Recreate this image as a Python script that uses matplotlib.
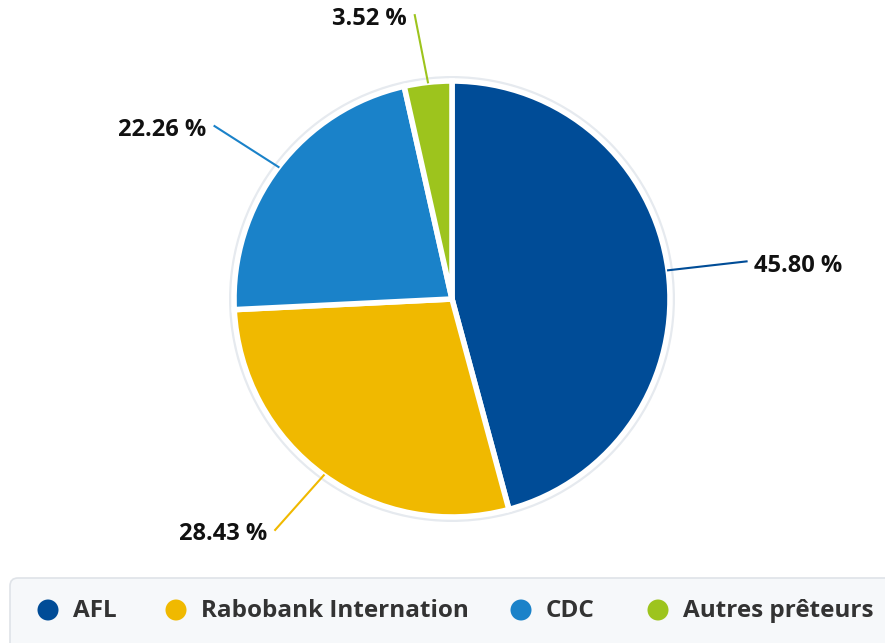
import matplotlib.pyplot as plt
import numpy as np
from matplotlib.patches import Circle, FancyBboxPatch

# data
lenders = ['AFL', 'Rabobank Internation', 'CDC', 'Autres prêteurs']
shares = [45.80, 28.43, 22.26, 3.52]
colors = ['#004c97', '#f0b900', '#1a82c9', '#9dc41d']
labels = ['45.80 %', '28.43 %', '22.26 %', '3.52 %']

W, H = 885, 643
fig = plt.figure(figsize=(W / 100, H / 100), dpi=100)
ax = fig.add_axes([0, 0, 1, 1])
ax.set_xlim(0, W)
ax.set_ylim(0, H)
ax.set_aspect('equal')
ax.axis('off')

cx, cy, r = 452, H - 299, 218

# light grey halo round the pie
ax.add_patch(Circle((cx, cy), r + 5, facecolor='#e6eaef', edgecolor='none', zorder=0))
ax.add_patch(Circle((cx, cy), r + 2, facecolor='white', edgecolor='none', zorder=0))

wedges, _ = ax.pie(shares, colors=colors, startangle=90, counterclock=False,
                   center=(cx, cy), radius=r,
                   wedgeprops=dict(edgecolor='white', linewidth=4))
ax.set_xlim(0, W)
ax.set_ylim(0, H)

for w, lab, col in zip(wedges, labels, colors):
    mid = np.deg2rad((w.theta1 + w.theta2) / 2)
    x0, y0 = cx + r * np.cos(mid), cy + r * np.sin(mid)
    x1 = cx + 1.34 * r * np.cos(mid) + 5 * np.sign(np.cos(mid))
    y1 = cy + 1.31 * r * np.sin(mid)
    ax.plot([x0, x1], [y0, y1], color=col, lw=1.5, zorder=3)
    if x1 > cx:
        ax.text(x1 + 7, y1 - 5, lab, ha='left', va='center', fontsize=17,
                fontweight='bold', family='Open Sans', color='#111111')
    else:
        ax.text(x1 - 8, y1 - 4, lab, ha='right', va='center', fontsize=17,
                fontweight='bold', family='Open Sans', color='#111111')

# legend box
ax.add_patch(FancyBboxPatch((10, -20), 900, H - 578 + 20,
                            boxstyle='round,pad=0,rounding_size=8',
                            facecolor='#f6f8fa', edgecolor='#dfe3e8', lw=1.2, zorder=1))
leg_x = [48, 176, 521, 658]
for lx, name, col in zip(leg_x, lenders, colors):
    ax.add_patch(Circle((lx, H - 610), 10.5, facecolor=col, edgecolor='none', zorder=2))
    ax.text(lx + 25, H - 611, name, ha='left', va='center', fontsize=17.5,
            fontweight='bold', family='Open Sans', color='#333333', zorder=2)

fig.savefig('out.png', dpi=100)
